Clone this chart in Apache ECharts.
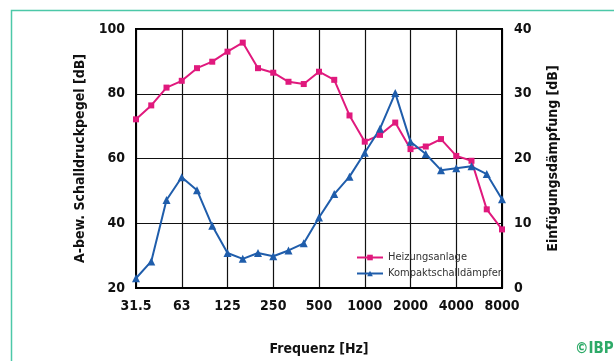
<!DOCTYPE html>
<html>
<head>
<meta charset="utf-8">
<script src="https://cdn.jsdelivr.net/npm/echarts@6/dist/echarts.min.js"></script>
<style>
  html, body { margin: 0; padding: 0; background: #fff; }
  #chart { width: 614px; height: 361px; }
</style>
</head>
<body>
<div id="chart"></div>
<script>
// Terzband-Mittenfrequenzen in Hz
var frequencies = ['31.5', '40', '50', '63', '80', '100', '125', '160', '200', '250', '315', '400',
  '500', '630', '800', '1000', '1250', '1600', '2000', '2500', '3150', '4000', '5000', '6300', '8000'];

// A-bewerteter Schalldruckpegel der Heizungsanlage [dB] (linke Achse)
var heizungsanlage = [72.1, 76.4, 81.9, 84.0, 87.9, 89.9, 93.0, 95.8, 87.9, 86.5, 83.7, 83.0,
  86.8, 84.3, 73.3, 65.2, 67.3, 71.1, 62.9, 63.7, 66.0, 60.8, 59.3, 44.3, 38.1];

// Einfügungsdämpfung des Kompaktschalldämpfers [dB] (rechte Achse)
var schalldaempfer = [1.5, 4.1, 13.6, 17.1, 15.1, 9.6, 5.4, 4.5, 5.4, 4.9, 5.8, 6.9,
  10.9, 14.5, 17.2, 20.9, 24.6, 30.1, 22.6, 20.7, 18.2, 18.5, 18.8, 17.6, 13.7];

var leftTicks = [20, 40, 60, 80, 100];
var rightTicks = [0, 10, 20, 30, 40];

var pink = '#e0197d';
var blue = '#1f5dab';
var fontCond = "'Liberation Sans Narrow', 'DejaVu Sans Condensed', 'Liberation Sans', sans-serif";

var chart = echarts.init(document.getElementById('chart'), null, { renderer: 'canvas' });

var option = {
  animation: false,
  grid: {
    left: 136, right: 112, top: 29, bottom: 69,
    show: true, borderColor: '#000', borderWidth: 2, backgroundColor: 'transparent'
  },
  graphic: [
    {
      type: 'rect', z: 0,
      shape: { x: 11.5, y: 10.5, width: 700, height: 400 },
      style: { fill: 'none', stroke: '#4cc8a8', lineWidth: 1.5 }
    },
    {
      type: 'text', left: 575, top: 342,
      style: { text: '©IBP', fill: '#2eaa68', font: "bold 15px " + fontCond }
    }
  ],
  legend: {
    orient: 'vertical',
    left: 351, top: 247,
    itemWidth: 26, itemHeight: 7, itemGap: 5,
    textStyle: { fontSize: 11, color: '#333', fontFamily: fontCond },
    data: ['Heizungsanlage', 'Kompaktschalldämpfer']
  },
  xAxis: {
    type: 'category',
    data: frequencies,
    boundaryGap: false,
    name: 'Frequenz [Hz]',
    nameLocation: 'middle',
    nameGap: 54,
    nameTextStyle: { fontSize: 14, fontWeight: 'bold', color: '#111', fontFamily: fontCond },
    axisLine: { lineStyle: { color: '#000', width: 2 } },
    axisTick: { show: false },
    axisLabel: {
      interval: 2, margin: 11,
      fontSize: 14, fontWeight: 'bold', color: '#111', fontFamily: fontCond
    },
    splitLine: { show: true, interval: 2, lineStyle: { color: '#111', width: 1.2 } }
  },
  yAxis: [
    {
      type: 'value',
      min: leftTicks[0], max: leftTicks[leftTicks.length - 1], interval: 20,
      name: 'A-bew. Schalldruckpegel [dB]',
      nameLocation: 'middle',
      nameGap: 48,
      nameTextStyle: { fontSize: 14, fontWeight: 'bold', color: '#111', fontFamily: fontCond },
      axisLine: { show: true, lineStyle: { color: '#000', width: 2 } },
      axisTick: { show: false },
      axisLabel: { margin: 11, fontSize: 14, fontWeight: 'bold', color: '#111', fontFamily: fontCond },
      splitLine: { show: true, lineStyle: { color: '#111', width: 1.2 } }
    },
    {
      type: 'value',
      min: rightTicks[0], max: rightTicks[rightTicks.length - 1], interval: 10,
      name: 'Einfügungsdämpfung [dB]',
      nameLocation: 'middle',
      nameGap: 44,
      nameRotate: 90,
      nameTextStyle: { fontSize: 14, fontWeight: 'bold', color: '#111', fontFamily: fontCond },
      axisLine: { show: true, lineStyle: { color: '#000', width: 2 } },
      axisTick: { show: false },
      axisLabel: { margin: 12, fontSize: 14, fontWeight: 'bold', color: '#111', fontFamily: fontCond },
      splitLine: { show: false }
    }
  ],
  series: [
    {
      name: 'Heizungsanlage',
      type: 'line',
      yAxisIndex: 0,
      data: heizungsanlage,
      symbol: 'rect',
      symbolSize: 6,
      color: pink,
      lineStyle: { color: pink, width: 2 },
      itemStyle: { color: pink }
    },
    {
      name: 'Kompaktschalldämpfer',
      type: 'line',
      yAxisIndex: 1,
      data: schalldaempfer,
      symbol: 'triangle',
      symbolSize: 8,
      color: blue,
      lineStyle: { color: blue, width: 2 },
      itemStyle: { color: blue }
    }
  ]
};

chart.setOption(option);
</script>
</body>
</html>
